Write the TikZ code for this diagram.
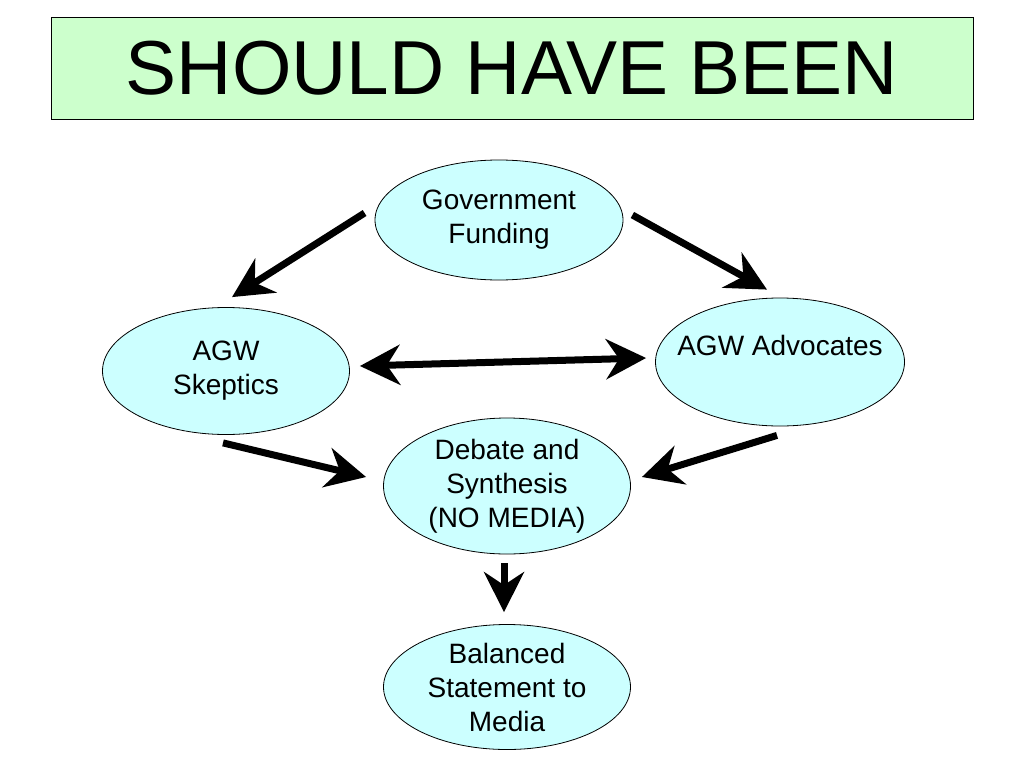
\documentclass[tikz,border=0pt]{standalone}
\usepackage{fontspec}
\setmainfont{Liberation Sans}
\usetikzlibrary{arrows.meta,shapes.geometric,calc}
\definecolor{titlegreen}{HTML}{CCFFCC}
\definecolor{bubblecyan}{HTML}{CCFFFF}
\begin{document}
\begin{tikzpicture}[x=1pt, y=-1pt,
        bubble/.style={ellipse, draw, line width=0.8pt, fill=bubblecyan, inner xsep=-20pt, inner ysep=-15pt, align=center, font=\fontsize{28}{34}\selectfont},
        fat/.style={line width=7pt, -{Stealth[length=40pt, width=40pt, inset=13pt]}},
        fatboth/.style={line width=7pt, {Stealth[length=40pt, width=40pt, inset=13pt]}-{Stealth[length=40pt, width=40pt, inset=13pt]}}]
        \useasboundingbox (0,0) rectangle (1024,768);
        \node[draw, line width=0.8pt, fill=titlegreen, minimum width=922pt, minimum height=102pt, font=\fontsize{76.5}{90}\selectfont] (title) at (512,68) {\raisebox{-2pt}{SHOULD HAVE BEEN}};
        \node[bubble, minimum width=248pt, minimum height=120pt] (gov) at (499,220) {Government\\Funding};
        \node[bubble, minimum width=247pt, minimum height=127pt] (skep) at (226,371) {AGW\\Skeptics};
        \node[bubble, minimum width=249pt, minimum height=128pt] (adv) at (780,362) {AGW Advocates\\\mbox{}};
        \node[bubble, minimum width=247pt, minimum height=136pt] (deb) at (507,486) {Debate and\\Synthesis\\(NO MEDIA)};
        \node[bubble, minimum width=247pt, minimum height=125pt] (bal) at (507,687) {Balanced\\Statement to\\Media};
        \draw[fat] ($(gov.west)+(-10,-7)$) -- ($(skep.north)+(6,-10)$);
        \draw[fat] ($(gov.east)+(9,-5)$) -- ($(adv.north)+(-13,-8)$);
        \draw[fatboth] ($(skep.east)+(10,-5)$) -- ($(adv.west)+(-9,-4)$);
        \draw[fat] ($(skep.south)+(-3,8)$) -- ($(deb.west)+(-17,-9)$);
        \draw[fat] ($(adv.south)+(-3,9)$) -- ($(deb.east)+(11,-9)$);
        \draw[fat] ($(deb.south)+(-3,9)$) -- ($(bal.north)+(-3,-12)$);
    \end{tikzpicture}
\end{document}
